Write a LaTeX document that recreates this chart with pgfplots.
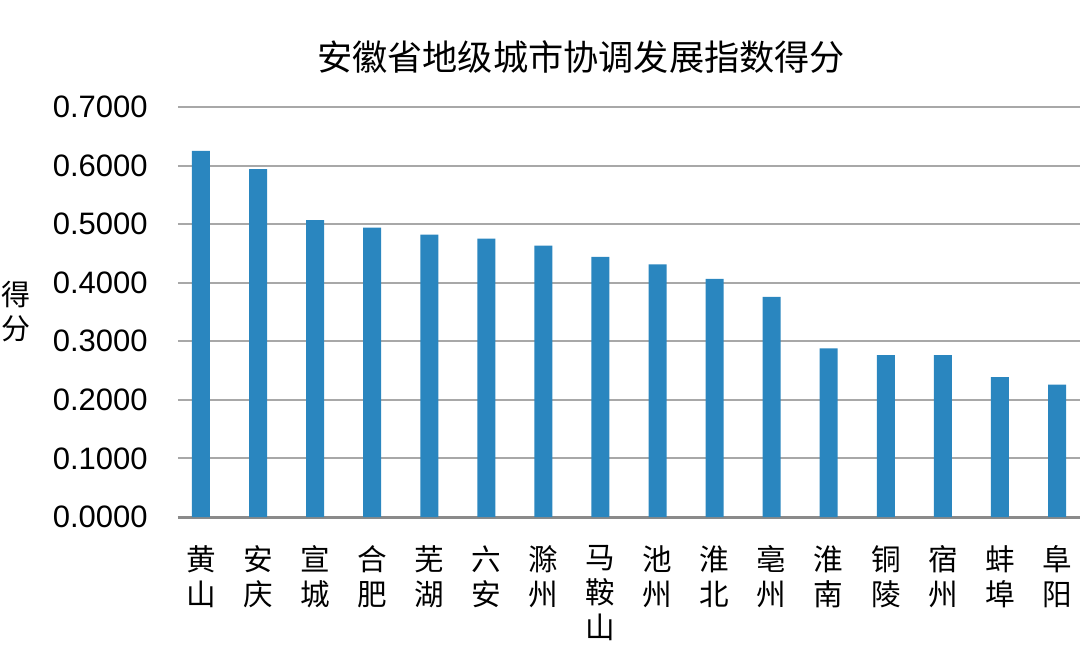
\documentclass[border=0pt]{standalone}
\usepackage{fontspec}
\setmainfont{Liberation Sans}
\newfontfamily\cjk{Noto Sans CJK SC}
\usepackage{pgfplots}
\pgfplotsset{compat=1.18}
\definecolor{barblue}{HTML}{2A86BF}
\definecolor{gridgray}{HTML}{A8A8A8}
\definecolor{axisgray}{HTML}{8A8A8A}
\begin{document}
\begin{tikzpicture}
\useasboundingbox (-89pt,-74.5pt) rectangle (451pt,258.5pt);
\begin{axis}[
  at={(0,0)}, anchor=south west,
  width=451pt, height=205pt, scale only axis,
  xmin=-0.403, xmax=15.403, ymin=0, ymax=0.7,
  ybar, bar width=9pt,
  axis x line=bottom, axis y line=left,
  x axis line style={-, axisgray, line width=1.5pt},
  y axis line style={draw=none},
  major tick length=0pt,
  ytick={0,0.1,0.2,0.3,0.4,0.5,0.6,0.7},
  ymajorgrids, grid style={gridgray, line width=1pt},
  yticklabel style={anchor=east, inner sep=0pt, xshift=-15pt,
    font=\fontsize{15.5}{18}\selectfont,
    /pgf/number format/.cd, fixed, fixed zerofill, precision=4, assume math mode=true},
  xtick={0,1,...,15},
  xticklabels={{黄\\山},{安\\庆},{宣\\城},{合\\肥},{芜\\湖},{六\\安},{滁\\州},{马\\鞍\\山},{池\\州},{淮\\北},{亳\\州},{淮\\南},{铜\\陵},{宿\\州},{蚌\\埠},{阜\\阳}},
  xticklabel style={anchor=north, inner sep=0pt, yshift=-14pt, align=center,
    font=\cjk\fontsize{14.8}{17.5}\selectfont},
  title={安徽省地级城市协调发展指数得分},
  title style={at={(axis description cs:0.4468,1)}, anchor=center, yshift=19pt,
    font=\cjk\fontsize{17.6}{21}\selectfont},
  ylabel={得\\分},
  ylabel style={at={(axis description cs:0,0.5)}, rotate=-90, anchor=center,
    xshift=-81pt, align=center, font=\cjk\fontsize{14.5}{17}\selectfont},
]
\addplot[fill=barblue, draw=none] coordinates {
(0,0.625) (1,0.594) (2,0.507) (3,0.494) (4,0.482) (5,0.4755) (6,0.4635) (7,0.444)
(8,0.4315) (9,0.4065) (10,0.3757) (11,0.288) (12,0.2764) (13,0.2764) (14,0.2387) (15,0.226)
};
\end{axis}
\end{tikzpicture}
\end{document}
